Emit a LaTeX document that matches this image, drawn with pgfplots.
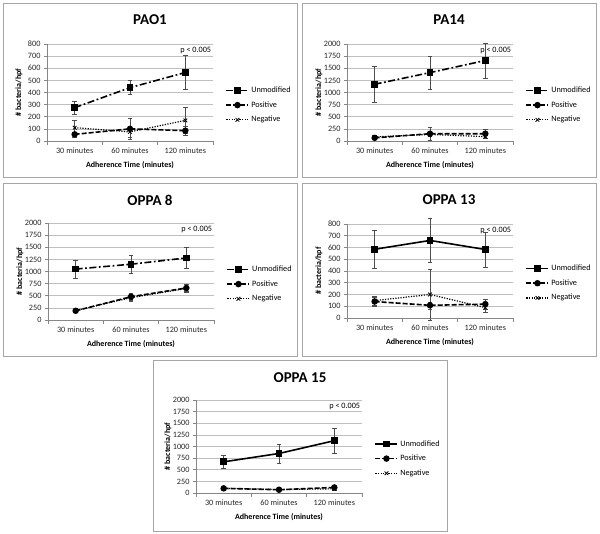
\documentclass[border=0pt]{standalone}
\usepackage{fontspec}
\setmainfont{Carlito}
\usepackage{pgfplots}
\pgfplotsset{compat=1.18}
\usepackage{pgfplotstable}
\definecolor{gridgray}{HTML}{BFBFBF}
\definecolor{axisgray}{HTML}{868686}
\definecolor{panelgray}{HTML}{A6A6A6}
\definecolor{errgray}{HTML}{4D4D4D}

\pgfplotstableread{
x um ume pos pose neg nege
0 275 55 55 20 110 65
1 440 58 100 85 75 45
2 565 140 85 35 170 105
}\paoone
\pgfplotstableread{
x um ume pos pose neg nege
0 1170 375 65 25 85 30
1 1410 335 150 125 135 40
2 1660 365 150 100 90 30
}\pafourteen
\pgfplotstableread{
x um ume pos pose neg nege
0 1050 190 190 30 195 30
1 1150 195 480 75 460 70
2 1280 215 660 70 650 80
}\oppaeight
\pgfplotstableread{
x um ume pos pose neg nege
0 585 165 140 40 148 40
1 660 185 108 30 200 215
2 583 150 118 45 88 40
}\oppathirteen
\pgfplotstableread{
x um ume pos pose neg nege
0 670 140 100 20 100 20
1 850 200 70 20 75 20
2 1125 260 120 25 90 40
}\oppafifteen

\pgfplotsset{
  panel/.style={
    scale only axis, width=166pt, height=97pt,
    xmin=-0.5, xmax=2.5, ymin=0,
    axis x line*=bottom, axis y line*=left,
    axis line style={draw=axisgray, line width=0.6pt},
    ymajorgrids, grid style={gridgray, line width=0.6pt},
    tick align=outside, major tick length=3pt,
    xtick={0,1,2}, xticklabels={30 minutes,60 minutes,120 minutes},
    x tick style={draw=none},
    extra x ticks={-0.5,0.5,1.5,2.5}, extra x tick labels={},
    extra x tick style={grid=none, x tick style={draw=axisgray, line width=0.6pt}, major tick length=4pt},
    y tick style={draw=axisgray, line width=0.6pt},
    ticklabel style={font=\fontsize{8.2}{9}\selectfont, text=black!85},
    /pgf/number format/assume math mode=true,
    /pgf/number format/set thousands separator={},
    scaled ticks=false,
    xlabel={Adherence Time (minutes)},
    ylabel={\# bacteria/hpf},
    label style={font=\bfseries\fontsize{8}{9}\selectfont},
    xlabel style={at={([yshift=-24pt]rel axis cs:0.5,0)}, anchor=center},
    ylabel style={at={([xshift=-28pt]rel axis cs:0,0.5)}, anchor=center},
    legend style={draw=none, fill=none, font=\fontsize{8.2}{9}\selectfont,
      at={(rel axis cs:1.075,0.37)}, anchor=west, row sep=3.5pt, inner sep=0pt,
      cells={anchor=west}},
    legend image code/.code={\draw[mark repeat=2,mark phase=2,##1] plot coordinates {(0pt,0pt)(11pt,0pt)(22pt,0pt)};},
    clip=false,
  },
  errs/.style={
    /pgfplots/error bars/y dir=both, /pgfplots/error bars/y explicit,
    /pgfplots/error bars/error bar style={line width=0.5pt, draw=errgray, solid},
    /pgfplots/error bars/error mark options={rotate=90, mark size=2.2pt, line width=0.5pt, draw=errgray, solid},
  },
  unmodDD/.style={black, line width=1.6pt, dash pattern=on 7pt off 2.5pt on 1.8pt off 2.5pt, mark=square*, mark size=2.6pt, mark options={solid}, errs},
  unmodS/.style={black, line width=1.6pt, solid, mark=square*, mark size=2.6pt, mark options={solid}, errs},
  posS/.style={black, line width=1.6pt, dash pattern=on 5pt off 2pt, mark=*, mark size=2.4pt, mark options={solid}, errs},
  negS/.style={black, line width=1.2pt, dash pattern=on 1.2pt off 1.4pt, mark=x, mark size=2.6pt, mark options={solid, line width=0.8pt}, errs},
}
\newcommand{\pnote}{\node[anchor=east, inner sep=0pt, font=\fontsize{8.2}{9}\selectfont] at (rel axis cs:0.99,0.935) {p < 0.005};}

\begin{document}
\begin{tikzpicture}
\useasboundingbox (0pt,0pt) rectangle (600pt,-534pt);
% panel borders
\draw[panelgray, line width=0.8pt] (3pt,-3pt) rectangle (297pt,-177pt);
\draw[panelgray, line width=0.8pt] (302pt,-3pt) rectangle (596pt,-177pt);
\draw[panelgray, line width=0.8pt] (3pt,-183pt) rectangle (297pt,-356pt);
\draw[panelgray, line width=0.8pt] (302pt,-183pt) rectangle (596pt,-356pt);
\draw[panelgray, line width=0.8pt] (153pt,-360pt) rectangle (447pt,-531pt);
% titles
\node[font=\bfseries\fontsize{15}{17}\selectfont] at (150pt,-20pt) {PAO1};
\node[font=\bfseries\fontsize{15}{17}\selectfont] at (449pt,-20pt) {PA14};
\node[font=\bfseries\fontsize{15}{17}\selectfont] at (150pt,-200pt) {OPPA 8};
\node[font=\bfseries\fontsize{15}{17}\selectfont] at (449pt,-200pt) {OPPA 13};
\node[font=\bfseries\fontsize{15}{17}\selectfont] at (300pt,-378pt) {OPPA 15};

\begin{axis}[panel, at={(47pt,-141pt)}, anchor=south west, ymax=800, ytick={0,100,...,800}]
\addplot[unmodDD] table[x=x, y=um, y error=ume] {\paoone};
\addlegendentry{Unmodified}
\addplot[posS] table[x=x, y=pos, y error=pose] {\paoone};
\addlegendentry{Positive}
\addplot[negS] table[x=x, y=neg, y error=nege] {\paoone};
\addlegendentry{Negative}
\pnote
\end{axis}

\begin{axis}[panel, at={(347pt,-141pt)}, anchor=south west, ymax=2000, ytick={0,250,...,2000}]
\addplot[unmodDD] table[x=x, y=um, y error=ume] {\pafourteen};
\addlegendentry{Unmodified}
\addplot[posS] table[x=x, y=pos, y error=pose] {\pafourteen};
\addlegendentry{Positive}
\addplot[negS] table[x=x, y=neg, y error=nege] {\pafourteen};
\addlegendentry{Negative}
\pnote
\end{axis}

\begin{axis}[panel, at={(48pt,-320pt)}, anchor=south west, ymax=2000, ytick={0,250,...,2000}]
\addplot[unmodDD] table[x=x, y=um, y error=ume] {\oppaeight};
\addlegendentry{Unmodified}
\addplot[posS] table[x=x, y=pos, y error=pose] {\oppaeight};
\addlegendentry{Positive}
\addplot[negS] table[x=x, y=neg, y error=nege] {\oppaeight};
\addlegendentry{Negative}
\pnote
\end{axis}

\begin{axis}[panel, at={(347pt,-318pt)}, anchor=south west, height=94pt, ymax=800, ytick={0,100,...,800}]
\addplot[unmodS] table[x=x, y=um, y error=ume] {\oppathirteen};
\addlegendentry{Unmodified}
\addplot[posS] table[x=x, y=pos, y error=pose] {\oppathirteen};
\addlegendentry{Positive}
\addplot[negS] table[x=x, y=neg, y error=nege] {\oppathirteen};
\addlegendentry{Negative}
\pnote
\end{axis}

\begin{axis}[panel, at={(196pt,-493pt)}, anchor=south west, height=93pt, ymax=2000, ytick={0,250,...,2000}]
\addplot[unmodS] table[x=x, y=um, y error=ume] {\oppafifteen};
\addlegendentry{Unmodified}
\addplot[posS] table[x=x, y=pos, y error=pose] {\oppafifteen};
\addlegendentry{Positive}
\addplot[negS] table[x=x, y=neg, y error=nege] {\oppafifteen};
\addlegendentry{Negative}
\pnote
\end{axis}
\end{tikzpicture}
\end{document}
